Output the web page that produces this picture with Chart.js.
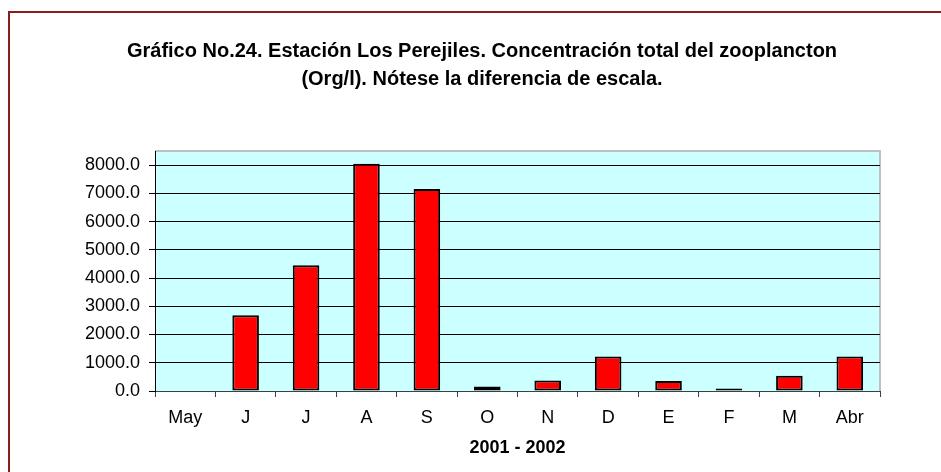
<!DOCTYPE html>
<html>
<head>
<meta charset="utf-8">
<script src="https://cdn.jsdelivr.net/npm/chart.js@4/dist/chart.umd.min.js"></script>
<style>
  body { margin: 0; background: #fff; }
  canvas { display: block; }
</style>
</head>
<body>
<canvas id="myChart" width="941" height="472"></canvas>
<script>
// meses del muestreo 2001 - 2002
var meses = ['May', 'J', 'J', 'A', 'S', 'O', 'N', 'D', 'E', 'F', 'M', 'Abr'];
// concentracion total del zooplancton (Org/l)
var orgL = [0, 2680, 4450, 8050, 7150, 155, 370, 1225, 350, 90, 540, 1225];
// marcas del eje Y
var ticksY = [0, 1000, 2000, 3000, 4000, 5000, 6000, 7000, 8000];
var tituloLineas = ['Gráfico No.24. Estación Los Perejiles. Concentración total del zooplancton',
                    '(Org/l). Nótese la diferencia de escala.'];
var tituloX = '2001 - 2002';

var fuente = "'Liberation Sans', Arial, sans-serif";

// fondo, marco rojo y area de trazado celeste
var fondo = {
  id: 'fondo',
  beforeDraw: function(chart) {
    var ctx = chart.ctx;
    var a = chart.chartArea;
    ctx.save();
    ctx.fillStyle = '#fff';
    ctx.fillRect(0, 0, chart.width, chart.height);
    ctx.strokeStyle = '#8b1c1c';
    ctx.lineWidth = 2;
    ctx.strokeRect(9, 12, chart.width + 20, chart.height + 20);
    ctx.fillStyle = '#ccffff';
    ctx.fillRect(a.left, a.top, a.right - a.left, a.bottom - a.top);
    ctx.strokeStyle = '#c0c0c0';
    ctx.lineWidth = 2;
    ctx.beginPath();
    ctx.moveTo(a.left, a.top);
    ctx.lineTo(a.right, a.top);
    ctx.lineTo(a.right, a.bottom);
    ctx.stroke();
    ctx.restore();
  }
};

var ctx = document.getElementById('myChart').getContext('2d');
var myChart = new Chart(ctx, {
  type: 'bar',
  data: {
    labels: meses,
    datasets: [{
      label: 'Org/l',
      data: orgL,
      backgroundColor: '#ff0000',
      borderColor: '#000',
      borderWidth: 2,
      borderSkipped: false,
      barPercentage: 0.44,
      categoryPercentage: 1
    }]
  },
  options: {
    responsive: false,
    animation: false,
    devicePixelRatio: 1,
    layout: { padding: { left: 84, right: 61, top: 0, bottom: 0 } },
    plugins: {
      legend: { display: false },
      tooltip: { enabled: false },
      title: {
        display: true,
        text: tituloLineas,
        color: '#000',
        font: { family: fuente, size: 20, weight: 'bold', lineHeight: 1.4 },
        padding: { top: 37, bottom: 58 }
      }
    },
    scales: {
      x: {
        offset: true,
        grid: { offset: true, drawOnChartArea: false, tickLength: 6, tickColor: '#404040' },
        border: { color: '#404040', width: 1 },
        ticks: { color: '#000', padding: 10, font: { family: fuente, size: 18 }, maxRotation: 0 },
        title: {
          display: true,
          text: tituloX,
          color: '#000',
          font: { family: fuente, size: 18, weight: 'bold' },
          padding: { top: 4, bottom: 13 }
        },
        afterFit: function(scale) { scale.height = 81; }
      },
      y: {
        min: 0,
        max: 8500,
        grid: { color: '#000', lineWidth: 1, tickLength: 6, tickColor: '#000' },
        border: { color: '#000', width: 1 },
        ticks: {
          padding: 9,
          color: '#000',
          font: { family: fuente, size: 18 },
          callback: function(v) { return v.toFixed(1); }
        },
        afterBuildTicks: function(scale) {
          scale.ticks = ticksY.map(function(v) { return { value: v }; });
        },
        afterFit: function(scale) { scale.width = 71; }
      }
    }
  },
  plugins: [fondo]
});
</script>
</body>
</html>
